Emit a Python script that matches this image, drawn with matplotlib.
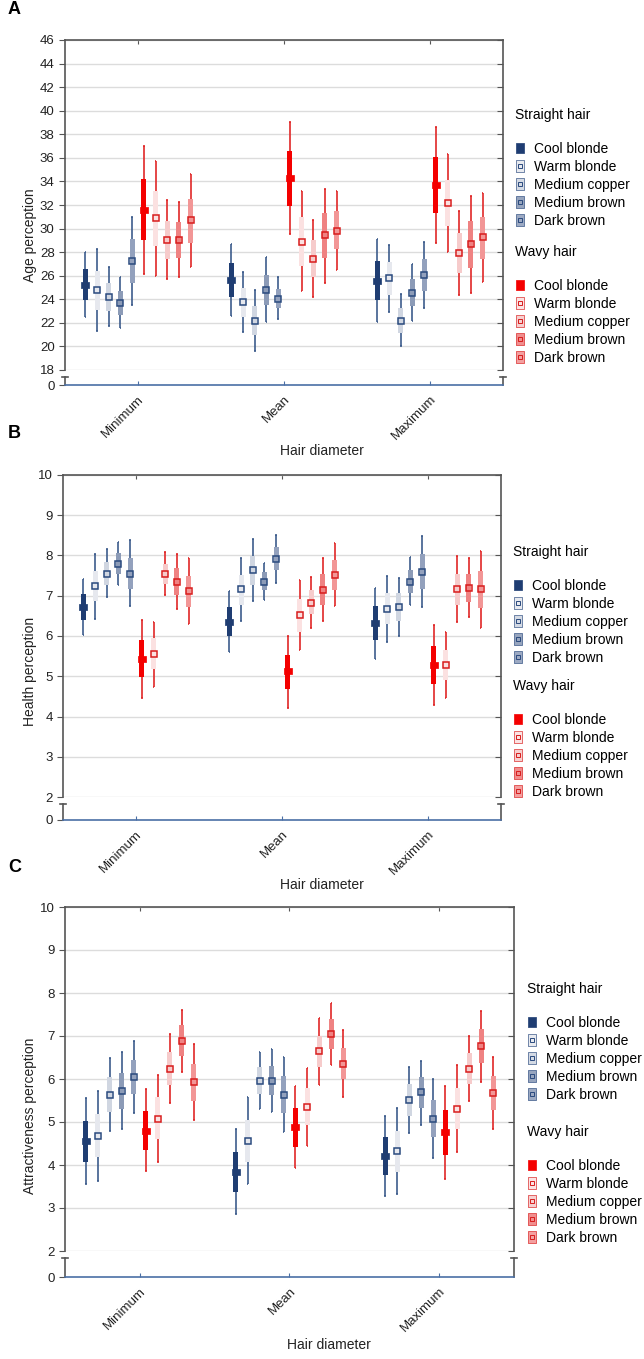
import numpy as np
import matplotlib
matplotlib.use('Agg')
import matplotlib.pyplot as plt
from matplotlib.lines import Line2D
from matplotlib.legend_handler import HandlerTuple

plt.rcParams['font.family'] = ['Liberation Sans', 'DejaVu Sans']

groups = ['Minimum', 'Mean', 'Maximum']
shades = ['Cool blonde', 'Warm blonde', 'Medium copper', 'Medium brown', 'Dark brown']
# columns: 5 straight-hair shades then 5 wavy-hair shades; rows: Minimum, Mean, Maximum

# --- A: age perception
age_mean = [[25.2, 24.8, 24.2, 23.7, 27.25, 31.6, 30.9, 29.05, 29.0, 30.7],
            [25.65, 23.75, 22.2, 24.8, 24.05, 34.25, 28.9, 27.45, 29.45, 29.8],
            [25.55, 25.8, 22.2, 24.55, 26.05, 33.7, 32.15, 27.95, 28.65, 29.25]]
age_box_hi = [[26.55, 26.4, 25.35, 24.7, 29.1, 34.2, 33.2, 30.65, 30.55, 32.55],
              [27.1, 25.0, 23.45, 26.1, 24.9, 36.55, 30.95, 29.05, 31.35, 31.45],
              [27.25, 27.15, 23.25, 25.7, 27.4, 36.05, 34.1, 29.6, 30.65, 31.0]]
age_box_lo = [[23.9, 23.1, 23.0, 22.7, 25.4, 29.0, 28.5, 27.45, 27.5, 28.8],
              [24.2, 22.5, 20.95, 23.5, 23.25, 31.95, 26.85, 25.9, 27.5, 28.25],
              [23.9, 24.4, 21.15, 23.45, 24.7, 31.35, 30.2, 26.25, 26.65, 27.4]]
age_wh_hi = [[28.0, 28.3, 26.7, 25.85, 31.0, 37.0, 35.75, 32.4, 32.25, 34.6],
             [28.7, 26.35, 24.75, 27.55, 25.85, 39.05, 33.15, 30.75, 33.4, 33.2],
             [29.1, 28.6, 24.45, 27.0, 28.85, 38.65, 36.35, 31.5, 32.8, 33.0]]
age_wh_lo = [[22.5, 21.3, 21.75, 21.6, 23.5, 26.15, 26.0, 25.75, 25.85, 26.75],
             [22.6, 21.2, 19.65, 22.1, 22.35, 29.5, 24.7, 24.2, 25.4, 26.45],
             [22.05, 22.9, 20.0, 22.15, 23.25, 28.75, 28.05, 24.4, 24.5, 25.45]]

# --- B: health perception
health_mean = [[6.72, 7.24, 7.55, 7.80, 7.55, 5.44, 5.56, 7.55, 7.35, 7.11],
               [6.35, 7.16, 7.64, 7.35, 7.92, 5.12, 6.52, 6.83, 7.15, 7.51],
               [6.32, 6.68, 6.72, 7.35, 7.60, 5.28, 5.27, 7.16, 7.20, 7.16]]
health_box_hi = [[7.04, 7.62, 7.84, 8.05, 7.95, 5.90, 5.94, 7.80, 7.69, 7.50],
                 [6.71, 7.52, 7.99, 7.58, 8.22, 5.54, 6.93, 7.14, 7.53, 7.89],
                 [6.74, 7.07, 7.06, 7.64, 8.03, 5.75, 5.66, 7.55, 7.55, 7.62]]
health_box_lo = [[6.39, 6.86, 7.27, 7.54, 7.16, 4.98, 5.17, 7.29, 7.02, 6.73],
                 [5.99, 6.78, 7.27, 7.14, 7.64, 4.69, 6.10, 6.54, 6.77, 7.15],
                 [5.90, 6.29, 6.37, 7.07, 7.16, 4.80, 4.90, 6.77, 6.85, 6.70]]
health_wh_hi = [[7.41, 8.03, 8.15, 8.33, 8.38, 6.39, 6.36, 8.08, 8.04, 7.93],
                [7.11, 7.93, 8.40, 7.82, 8.52, 6.00, 7.39, 7.47, 7.95, 8.30],
                [7.19, 7.50, 7.43, 7.96, 8.48, 6.27, 6.09, 7.99, 7.94, 8.12]]
health_wh_lo = [[6.03, 6.43, 6.97, 7.26, 6.74, 4.47, 4.73, 7.02, 6.67, 6.31],
                [5.61, 6.38, 6.87, 6.89, 7.31, 4.22, 5.65, 6.21, 6.37, 6.74],
                [5.44, 5.85, 6.00, 6.77, 6.71, 4.28, 4.47, 6.35, 6.46, 6.20]]

# --- C: attractiveness perception
attr_mean = [[4.56, 4.68, 5.63, 5.72, 6.04, 4.80, 5.07, 6.24, 6.88, 5.92],
             [3.84, 4.55, 5.96, 5.96, 5.63, 4.88, 5.36, 6.64, 7.04, 6.36],
             [4.20, 4.32, 5.52, 5.69, 5.07, 4.76, 5.31, 6.24, 6.76, 5.68]]
attr_box_hi = [[5.03, 5.18, 6.04, 6.15, 6.45, 5.26, 5.57, 6.63, 7.25, 6.35],
               [4.31, 5.05, 6.28, 6.31, 6.06, 5.33, 5.79, 7.01, 7.39, 6.73],
               [4.65, 4.80, 5.89, 6.04, 5.51, 5.28, 5.80, 6.60, 7.16, 6.08]]
attr_box_lo = [[4.08, 4.18, 5.23, 5.30, 5.64, 4.35, 4.60, 5.87, 6.54, 5.50],
               [3.37, 4.07, 5.65, 5.62, 5.22, 4.43, 4.93, 6.28, 6.70, 6.00],
               [3.76, 3.84, 5.15, 5.32, 4.64, 4.24, 4.84, 5.88, 6.37, 5.28]]
attr_wh_hi = [[5.56, 5.73, 6.50, 6.62, 6.89, 5.76, 6.10, 7.04, 7.60, 6.82],
              [4.83, 5.59, 6.63, 6.69, 6.51, 5.83, 6.26, 7.42, 7.76, 7.13],
              [5.13, 5.32, 6.29, 6.43, 5.99, 5.84, 6.32, 7.00, 7.59, 6.52]]
attr_wh_lo = [[3.56, 3.62, 4.78, 4.83, 5.21, 3.86, 4.07, 5.45, 6.16, 5.04],
              [2.87, 3.55, 5.30, 5.24, 4.76, 3.94, 4.45, 5.87, 6.32, 5.59],
              [3.28, 3.33, 4.74, 4.93, 4.16, 3.68, 4.31, 5.48, 5.93, 4.84]]

straight_box = ['#1f3d72', '#e6e8ee', '#d0d6e1', '#8c9bb7', '#93a1bd']
wavy_box = ['#f40000', '#fbe1e1', '#f6cbcb', '#ef8282', '#f29696']
straight_line = '#3d5c8c'
wavy_line = '#e02828'
straight_mark = '#2a4a7e'
wavy_mark = '#d81c1c'
spine_col = '#555555'

# wide rectangle for the cool blonde mean, tall one for legend icons
wide_rect = [(-1.2, -1), (1.2, -1), (1.2, 1), (-1.2, 1), (-1.2, -1)]
tall_rect = [(-0.75, -1), (0.75, -1), (0.75, 1), (-0.75, 1), (-0.75, -1)]

W, H = 644, 1359
fig = plt.figure(figsize=(W / 100, H / 100), dpi=100)


def rect(l, t, r, b):
    return [l / W, 1 - b / H, (r - l) / W, (b - t) / H]


def fig_xy(x, y):
    return (x / W, 1 - y / H)


def legend_handles(boxes, mc):
    hs = []
    for k, c in enumerate(boxes):
        if k == 0:
            hs.append(Line2D([], [], ls='none', marker=tall_rect, ms=7, mfc=c, mec=c, mew=0.5))
        else:
            hs.append((Line2D([], [], ls='none', marker=tall_rect, ms=8, mfc=c, mec=mc,
                              mew=0.5, alpha=0.9),
                       Line2D([], [], ls='none', marker='s', ms=2.3, mfc='none', mec=mc,
                              mew=0.7)))
    return hs


def draw_panel(letter, letter_y, main_px, stub_px, yrange, ylabel, ylab_y, xlab_xy, data, leg_xy):
    mean, blo, bhi, wlo, whi = [np.array(a) for a in data]
    ylo, yhi, ystep = yrange
    ax = fig.add_axes(rect(*main_px))
    st = fig.add_axes(rect(*stub_px))

    for i in range(10):
        xs = np.arange(len(groups)) + (i - 4.5) * 0.08
        wavy = i >= 5
        k = i % 5
        face = (wavy_box if wavy else straight_box)[k]
        lc = wavy_line if wavy else straight_line
        mc = wavy_mark if wavy else straight_mark
        ax.vlines(xs, wlo[:, i], whi[:, i], color=lc, lw=1.2, zorder=2)
        ax.hlines(whi[:, i], xs - 0.006, xs + 0.006, color=lc, lw=1.2, zorder=2)
        ax.hlines(wlo[:, i], xs - 0.006, xs + 0.006, color=lc, lw=1.2, zorder=2)
        ax.bar(xs, bhi[:, i] - blo[:, i], bottom=blo[:, i], width=0.034,
               color=face, zorder=3)
        if k == 0:
            ax.plot(xs, mean[:, i], ls='none', marker=wide_rect, ms=5.2, mfc=face,
                    mec=face, mew=0.5, zorder=4)
        else:
            ax.plot(xs, mean[:, i], ls='none', marker='s', ms=4.0, mfc='none',
                    mec=mc, mew=1.1, zorder=4)

    ticks = np.arange(ylo, yhi + ystep / 2, ystep)
    ax.set_xlim(-0.5, 2.5)
    ax.set_ylim(ylo, yhi)
    ax.set_yticks(ticks)
    ax.yaxis.grid(True, color='#dcdcdc', lw=1)
    ax.set_axisbelow(True)
    ax.set_xticks(range(len(groups)))
    ax.tick_params(axis='x', top=True, bottom=False, direction='in', length=3,
                   labelbottom=False, color=spine_col)
    ax.tick_params(axis='y', direction='out', length=4, color=spine_col,
                   labelsize=9.5, labelcolor='#222222')
    ax.spines['bottom'].set_visible(False)
    for s in ['left', 'top', 'right']:
        ax.spines[s].set_color(spine_col)
        ax.spines[s].set_linewidth(1.2)

    tw = ax.twinx()
    tw.set_ylim(ylo, yhi)
    tw.set_yticks(ticks)
    tw.tick_params(axis='y', direction='in', length=4, color=spine_col, labelright=False)
    for s in tw.spines.values():
        s.set_visible(False)

    ax.set_ylabel(ylabel, fontsize=10, color='#222222')
    ax.yaxis.label.set_va('center')
    ax.yaxis.set_label_coords(*fig_xy(30, ylab_y), transform=fig.transFigure)

    # stub below the axis break
    st.set_xlim(-0.5, 2.5)
    st.set_ylim(0, 1)
    st.set_yticks([0])
    st.set_xticks(range(len(groups)))
    st.set_xticklabels(groups, rotation=45, ha='right', rotation_mode='anchor')
    st.tick_params(axis='x', direction='in', length=3, color='#4a6fa5', pad=6,
                   labelsize=9.5, labelcolor='#222222')
    st.tick_params(axis='y', direction='out', length=4, color=spine_col,
                   labelsize=9.5, labelcolor='#222222')
    st.patch.set_visible(False)
    st.spines['top'].set_visible(False)
    for s in ['left', 'right']:
        st.spines[s].set_color(spine_col)
        st.spines[s].set_linewidth(1.2)
    st.spines['bottom'].set_color('#4a6fa5')
    st.spines['bottom'].set_linewidth(1.2)
    for xc in (0, 1):
        st.plot([xc - 0.006, xc + 0.006], [1, 1], color=spine_col, lw=1.2,
                transform=st.transAxes, clip_on=False)
    st.set_xlabel('Hair diameter', fontsize=10, color='#222222')
    st.xaxis.label.set_va('center')
    st.xaxis.set_label_coords(*fig_xy(*xlab_xy), transform=fig.transFigure)

    fig.text(*fig_xy(8, letter_y), letter, fontsize=13, weight='bold',
             va='center', ha='left')

    common = dict(loc='upper left', bbox_transform=fig.transFigure, frameon=False,
                  alignment='left', fontsize=10, title_fontsize=10, handlelength=0.7,
                  handletextpad=0.7, labelspacing=0.28, borderpad=0, borderaxespad=0,
                  handler_map={tuple: HandlerTuple(ndivide=1)})
    lx, ly1, ly2 = leg_xy
    ax.legend(legend_handles(straight_box, straight_mark), shades,
              title='Straight hair\n', bbox_to_anchor=fig_xy(lx, ly1), **common)
    tw.legend(legend_handles(wavy_box, wavy_mark), shades,
              title='Wavy hair\n', bbox_to_anchor=fig_xy(lx, ly2), **common)


draw_panel('A', 10, (65, 40, 503, 370), (65, 377, 503, 385), (18, 46, 2), 'Age perception', 235,
           (322, 451), [age_mean, age_box_lo, age_box_hi, age_wh_lo, age_wh_hi],
           (515, 108, 245))
draw_panel('B', 433, (63, 475, 501, 797), (63, 804, 501, 820), (2, 10, 1), 'Health perception',
           671, (322, 885),
           [health_mean, health_box_lo, health_box_hi, health_wh_lo, health_wh_hi],
           (513, 545, 679))
draw_panel('C', 867, (65, 907, 514, 1251), (65, 1258, 514, 1277), (2, 10, 1),
           'Attractiveness perception', 1116, (329, 1345),
           [attr_mean, attr_box_lo, attr_box_hi, attr_wh_lo, attr_wh_hi],
           (527, 982, 1125))

fig.savefig('out.png', dpi=100)
